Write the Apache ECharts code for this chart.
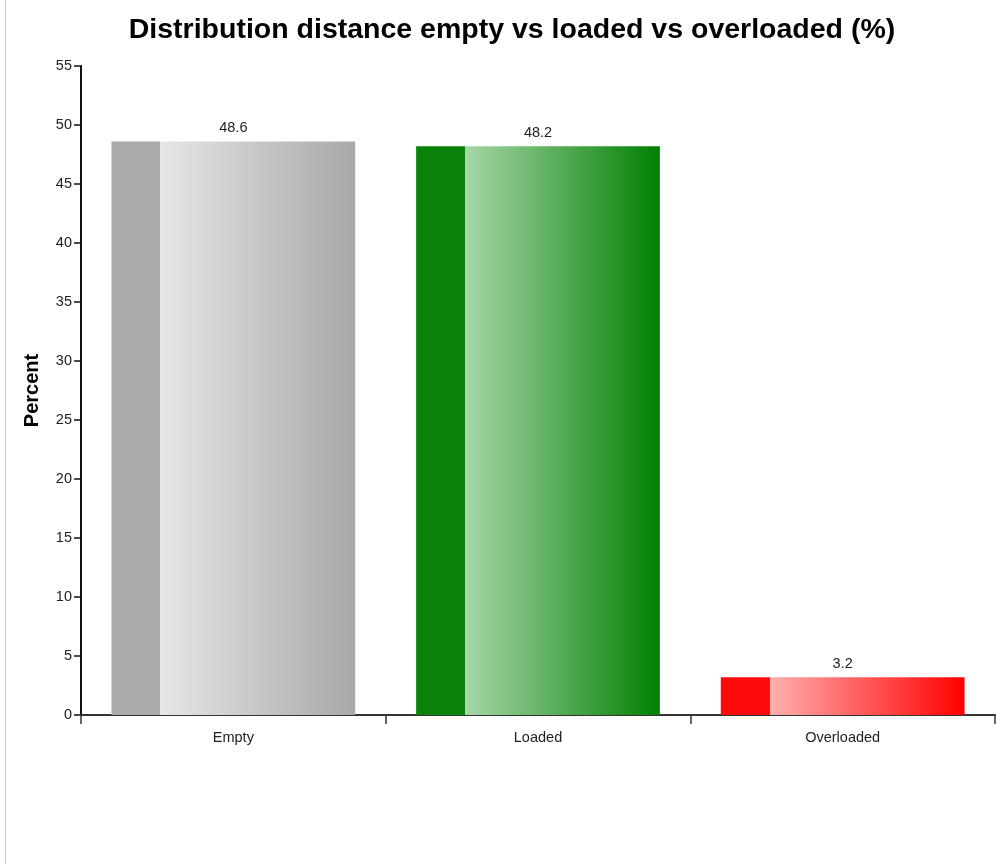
<!DOCTYPE html>
<html><head><meta charset="utf-8">
<script src="https://cdn.jsdelivr.net/npm/echarts@6/dist/echarts.min.js"></script>
<style>html,body{margin:0;padding:0;background:#fff}#c{width:996px;height:864px}</style>
</head><body><div id="c"></div>
<script>
const categories = ['Empty', 'Loaded', 'Overloaded'];
const values = [48.6, 48.2, 3.2];
const yTicks = [0, 5, 10, 15, 20, 25, 30, 35, 40, 45, 50, 55];
const palette = [
  {dark: '#aaaaaa', light: '#e6e6e6', end: '#a8a8a8'},
  {dark: '#0a820a', light: '#a8d6a8', end: '#008000'},
  {dark: '#ff0a0a', light: '#ffb0b0', end: '#ff0000'}
];
function grad(p){
  return new echarts.graphic.LinearGradient(0,0,1,0,[
    {offset:0,color:p.dark},{offset:0.2,color:p.dark},
    {offset:0.2001,color:p.light},{offset:1,color:p.end}]);
}
const FF = 'Liberation Sans, Arial';
const chart = echarts.init(document.getElementById('c'), null, {renderer:'canvas'});
chart.setOption({
  animation:false,
  backgroundColor:'#fff',
  title:{text:'Distribution distance empty vs loaded vs overloaded (%)',left:507,top:11,textAlign:'center',
    textStyle:{fontFamily:FF,fontSize:28.5,fontWeight:'bold',color:'#000'}},
  graphic:[{type:'line',shape:{x1:5.5,y1:0,x2:5.5,y2:864},style:{stroke:'#cccccc',lineWidth:1}}],
  grid:{left:81,right:1,top:66,bottom:149,containLabel:false},
  xAxis:{type:'category',data:categories,
    axisLine:{lineStyle:{color:'#333',width:2}},
    axisTick:{show:true,length:9,lineStyle:{color:'#333',width:1.5}},
    axisLabel:{color:'#222',fontSize:14.5,fontFamily:FF,margin:15}},
  yAxis:{type:'value',min:yTicks[0],max:yTicks[yTicks.length-1],interval:5,
    name:'Percent',nameLocation:'middle',nameGap:39,
    nameTextStyle:{fontFamily:FF,fontSize:20,fontWeight:'bold',color:'#000'},
    axisLine:{show:true,lineStyle:{color:'#111',width:2}},
    axisTick:{show:true,length:7,lineStyle:{color:'#111',width:1.5}},
    splitLine:{show:false},
    axisLabel:{color:'#222',fontSize:14.5,fontFamily:FF,margin:9}},
  series:[{type:'bar',barCategoryGap:'20%',
    data:values.map((v,i)=>({value:v,itemStyle:{color:grad(palette[i])}})),
    label:{show:true,position:'top',distance:6,color:'#222',fontSize:14.5,fontFamily:FF}}]
});
</script></body></html>
